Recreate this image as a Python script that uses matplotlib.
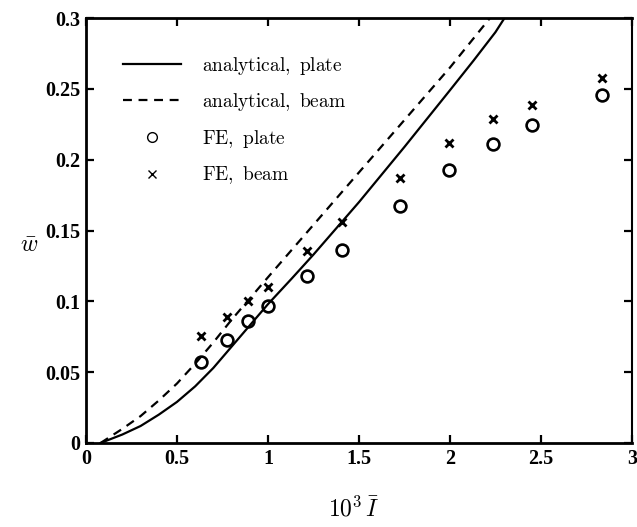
import matplotlib
matplotlib.use("Agg")
import matplotlib.pyplot as plt
from matplotlib.lines import Line2D

plt.rcParams['mathtext.fontset'] = 'cm'

# analytical curves
x_plate = [0.08, 0.2, 0.3, 0.4, 0.5, 0.6, 0.7, 0.8, 0.9, 1.0, 1.13, 1.25, 1.5, 1.75, 2.0, 2.13, 2.25, 2.3]
w_plate = [0.0, 0.006, 0.012, 0.020, 0.029, 0.040, 0.053, 0.068, 0.083, 0.098, 0.116, 0.133,
           0.170, 0.209, 0.249, 0.270, 0.290, 0.30]
x_beam = [0.08, 0.2, 0.3, 0.4, 0.5, 0.6, 0.7, 0.8, 0.9, 1.0, 1.25, 1.5, 1.75, 2.0, 2.22]
w_beam = [0.0, 0.010, 0.019, 0.030, 0.042, 0.056, 0.071, 0.087, 0.102, 0.117, 0.154, 0.191,
          0.228, 0.265, 0.30]

# finite element results
x_fe = [0.63, 0.775, 0.89, 1.0, 1.215, 1.405, 1.725, 1.995, 2.235, 2.45, 2.835]
w_fe_plate = [0.057, 0.073, 0.086, 0.0965, 0.1176, 0.1364, 0.1676, 0.193, 0.2113, 0.2246, 0.2458]
w_fe_beam = [0.0754, 0.0887, 0.100, 0.110, 0.1354, 0.1558, 0.187, 0.212, 0.229, 0.2387, 0.2577]

xticks = [0, 0.5, 1, 1.5, 2, 2.5, 3]
xticklabels = ['0', '0.5', '1', '1.5', '2', '2.5', '3']
yticks = [0, 0.05, 0.1, 0.15, 0.2, 0.25, 0.3]
yticklabels = ['0', '0.05', '0.1', '0.15', '0.2', '0.25', '0.3']

fig = plt.figure(figsize=(6.37, 5.27), dpi=100)
ax = fig.add_axes([0.135, 0.1594, 0.857, 0.8064])

ax.plot(x_plate, w_plate, color='black', lw=1.6)
ax.plot(x_beam, w_beam, color='black', lw=1.6, ls=(0, (4, 3)))
ax.plot(x_fe, w_fe_plate, ls='none', marker='o', ms=8.5, mfc='none', mec='black', mew=1.9)
ax.plot(x_fe, w_fe_beam, ls='none', marker='x', ms=5.5, mec='black', mew=2.0)

ax.set_xlim(0, 3)
ax.set_ylim(0, 0.3)
ax.set_xticks(xticks)
ax.set_xticklabels(xticklabels)
ax.set_yticks(yticks)
ax.set_yticklabels(yticklabels)
ax.tick_params(direction='in', length=6, width=1.6, top=True, right=True, pad=4)
for lab in ax.get_xticklabels() + ax.get_yticklabels():
    lab.set_family('Liberation Serif')
    lab.set_fontweight('bold')
    lab.set_fontsize(14.5)
for side in ['left', 'bottom', 'top']:
    ax.spines[side].set_linewidth(2.0)
ax.spines['right'].set_linewidth(1.5)

ax.set_xlabel(r'$10^3\,\bar{I}$', fontsize=17)
ax.xaxis.set_label_coords(0.49, -0.125)
ax.set_ylabel(r'$\bar{w}$', fontsize=17, rotation=0, ha='center', va='center')
ax.yaxis.set_label_coords(-0.105, 0.465)

handles = [
    Line2D([], [], color='black', lw=1.6),
    Line2D([], [], color='black', lw=1.6, ls=(0, (4, 3))),
    Line2D([], [], ls='none', marker='o', ms=7, mfc='none', mec='black', mew=1.0),
    Line2D([], [], ls='none', marker='x', ms=6, mec='black', mew=1.0),
]
labels = [r'$\mathrm{analytical,\ plate}$', r'$\mathrm{analytical,\ beam}$',
          r'$\mathrm{FE,\ plate}$', r'$\mathrm{FE,\ beam}$']
ax.legend(handles, labels, loc='upper left', bbox_to_anchor=(0.035, 0.955), frameon=False,
          fontsize=14, handlelength=3.0, handletextpad=1.1, labelspacing=0.75)

fig.savefig('out.png', dpi=100)
